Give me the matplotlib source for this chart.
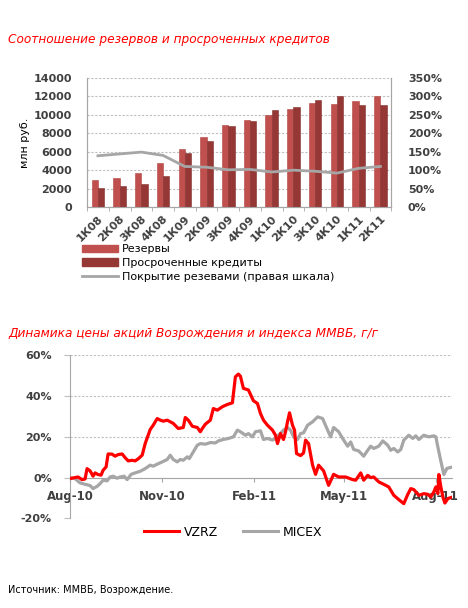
import numpy as np
import matplotlib.pyplot as plt
import matplotlib.dates as mdates
from matplotlib.patches import Patch
from matplotlib.lines import Line2D
from matplotlib.ticker import FuncFormatter

# --- chart 1: reserves vs overdue loans ---
quarters = ["1К08", "2К08", "3К08", "4К08", "1К09", "2К09", "3К09", "4К09",
            "1К10", "2К10", "3К10", "4К10", "1К11", "2К11"]
reserves = [2900, 3200, 3650, 4750, 6350, 7600, 8850, 9400, 10000, 10650, 11300, 11150, 11500, 12050]
overdue = [2100, 2250, 2450, 3350, 5850, 7150, 8750, 9350, 10500, 10800, 11600, 12050, 11050, 11050]
coverage = [139, 144, 149, 140, 110, 108, 101, 102, 95, 100, 97, 92, 105, 110]

# --- chart 2: VZRZ vs MICEX, y/y change (days from 2010-08-01) ---
vzrz_days = [0, 5, 8, 12, 15, 17, 20, 23, 25, 28, 31, 33, 36, 38, 42, 45, 48, 52, 55, 58,
             62, 65, 68, 72, 75, 80, 83, 87, 90, 93, 97, 100, 103, 108, 113, 115, 118, 122,
             127, 130, 132, 135, 140, 143, 147, 152, 157, 162, 165, 168, 170, 173, 178, 183,
             187, 190, 193, 197, 202, 205, 207, 210, 213, 215, 217, 219, 222, 224, 226, 230,
             233, 235, 238, 242, 245, 248, 253, 258, 263, 268, 275, 282, 285, 290, 293, 297,
             300, 303, 308, 313, 318, 323, 328, 333, 337, 340, 343, 348, 353, 357, 360, 363,
             365, 367, 368, 370, 372, 374, 377, 380]
vzrz = [-0.5, 0, 0.3, -1, -0.7, 4.4, 3.3, 0.7, 2.3, 1.5, 1.2, 3.6, 5.2, 11.6, 11.5, 10.5,
        11.3, 11.6, 9.8, 8.2, 8.5, 8.2, 9.2, 11, 16.7, 23.6, 25.7, 29, 28.2, 27.7, 28.2, 27.4,
        26.6, 24.1, 24.6, 29.5, 28.2, 25.2, 24.6, 22.5, 24.1, 26.2, 28.2, 33.9, 33.1, 34.8,
        35.9, 36.7, 49.5, 50.8, 49.8, 43.8, 43, 37.7, 36.4, 31.5, 28.2, 25.7, 23.3, 20.8,
        16.7, 21.6, 18.7, 22.5, 27.4, 31.8, 25.7, 23.3, 11.8, 10.8, 12.1, 18.4, 16.7, 6.1,
        1.6, 6.1, 3.3, -3.8, 1.6, 0.3, 0.3, -1, -1.3, 2.3, -1.3, 1.1, 0, 0.3, -2.1, -3.3,
        -4.6, -8.7, -10.8, -12.8, -8.2, -5.4, -5.9, -8.7, -7.9, -8.2, -9.5, -7, -4.6, -7.9,
        1.5, -4.6, -9.5, -12.5, -10.3, -9.8]
micex_days = [0, 5, 10, 15, 20, 23, 27, 30, 33, 37, 40, 43, 47, 50, 54, 57, 61, 65, 70, 75,
              80, 83, 87, 92, 97, 100, 103, 107, 110, 113, 117, 119, 123, 127, 130, 135, 140,
              145, 148, 153, 158, 163, 167, 170, 175, 178, 182, 185, 190, 193, 197, 202, 205,
              208, 213, 217, 220, 223, 227, 230, 233, 237, 242, 247, 252, 257, 260, 263, 268,
              273, 277, 280, 283, 288, 293, 297, 300, 303, 308, 312, 317, 320, 323, 327, 330,
              333, 338, 342, 345, 348, 353, 358, 363, 365, 367, 370, 373, 376, 380]
micex = [0, -0.5, -2.6, -3.3, -3.9, -5.4, -4.3, -3, -1.3, -1.6, 0.3, 0.7, -0.3, 0.3, 0.7,
         -1, 1.6, 2.3, 3.1, 4.4, 6.1, 5.6, 6.6, 7.7, 8.9, 11, 8.9, 7.7, 8.9, 8.5, 10.2, 9.3,
         12.6, 15.9, 16.7, 16.4, 17.2, 17, 18, 18.7, 19.2, 20, 23.3, 22.5, 20.8, 21.6, 20,
         22.5, 23, 18.7, 19.2, 18.4, 19.2, 20.8, 23.3, 24.6, 23.3, 20, 18.7, 21.6, 22, 25.7,
         27.4, 29.8, 29, 23.3, 20, 24.6, 22.5, 18.4, 15.4, 17.5, 13.8, 13.1, 10.5, 13.4, 15.4,
         14.3, 15.4, 18, 15.9, 13.4, 14.3, 12.6, 13.8, 18.4, 20.8, 19.2, 20.5, 18.7, 20.8, 20,
         20.5, 20, 15, 8, 1.5, 4.5, 5]

GRID = "#BFBFBF"
AXC = "#A6A6A6"
TICKFONT = dict(fontsize=8, fontweight="bold", color="#404040")

fig = plt.figure(figsize=(4.68, 6.08), dpi=100)

fig.text(8 / 468, 1 - 40 / 608, "Соотношение резервов и просроченных кредитов",
         color="red", style="italic", fontsize=8.7, va="center")

ax1 = fig.add_axes([0.186, 0.6595, 0.650, 0.2122])
x = np.arange(len(quarters))
w = 0.29
ax1.bar(x - w / 2, reserves, w, color="#C0504D", edgecolor="#B04340", lw=0.4, zorder=3)
ax1.bar(x + w / 2, overdue, w, color="#953735", edgecolor="#843130", lw=0.4, zorder=3)
ax1.set_xlim(-0.5, len(quarters) - 0.5)
ax1.set_ylim(0, 14000)
ax1.set_yticks(range(0, 14001, 2000))
ax1.yaxis.grid(True, color=GRID, linestyle=(0, (2, 1.5)), lw=0.8, zorder=0)
ax1.set_xticks(x)
ax1.set_xticklabels(quarters, rotation=45, ha="right", rotation_mode="anchor", **TICKFONT)
ax1.set_xticks(np.arange(len(quarters) + 1) - 0.5, minor=True)
ax1.tick_params(axis="x", which="major", length=0, pad=5)
ax1.tick_params(axis="x", which="minor", length=3, color=AXC)
ax1.tick_params(axis="y", length=0, pad=11)
for lab in ax1.get_yticklabels():
    lab.set(**TICKFONT)
ax1.set_ylabel("млн руб.", fontsize=8, labelpad=2)
ax1.spines["top"].set_visible(False)
for s in ["left", "right", "bottom"]:
    ax1.spines[s].set_color(AXC)

ax1b = ax1.twinx()
ax1b.plot(x, coverage, color="#A6A6A6", lw=2)
ax1b.set_ylim(0, 350)
ax1b.set_yticks(range(0, 351, 50))
ax1b.yaxis.set_major_formatter(FuncFormatter(lambda v, p: f"{int(v)}%"))
ax1b.tick_params(axis="y", length=0, pad=12)
for lab in ax1b.get_yticklabels():
    lab.set(**TICKFONT)
ax1b.spines["top"].set_visible(False)
for s in ["left", "right", "bottom"]:
    ax1b.spines[s].set_color(AXC)

h1 = [Patch(color="#C0504D"), Patch(color="#953735"), Line2D([], [], color="#A6A6A6", lw=2)]
fig.legend(h1, ["Резервы", "Просроченные кредиты", "Покрытие резевами (правая шкала)"],
           loc="upper left", bbox_to_anchor=(82 / 468, 1 - 244 / 608), frameon=False,
           fontsize=8, handlelength=3.2, handleheight=0.6, labelspacing=0.35,
           handletextpad=0.4, borderpad=0, borderaxespad=0)

# --- chart 2 ---
fig.text(8 / 468, 1 - 334 / 608, "Динамика цены акций Возрождения и индекса ММВБ, г/г",
         color="red", style="italic", fontsize=8.7, va="center")

start = np.datetime64("2010-08-01")
ax2 = fig.add_axes([0.1496, 0.1475, 0.816, 0.268])
ax2.plot(start + np.array(micex_days), micex, color="#A6A6A6", lw=2.3, zorder=3)
ax2.plot(start + np.array(vzrz_days), vzrz, color="#FF0000", lw=2.3, zorder=4)
ax2.set_ylim(-20, 60)
ax2.set_yticks([-20, 0, 20, 40, 60])
ax2.yaxis.set_major_formatter(FuncFormatter(lambda v, p: f"{int(v)}%"))
ax2.set_xlim(start, start + 381)
ax2.set_xticks([np.datetime64(d) for d in ["2010-08-01", "2010-11-01", "2011-02-01",
                                          "2011-05-01", "2011-08-01"]])
ax2.xaxis.set_major_formatter(mdates.DateFormatter("%b-%y"))
ax2.yaxis.grid(True, color=GRID, linestyle=(0, (2, 1.5)), lw=0.8, zorder=0)
ax2.spines["bottom"].set_position(("data", 0))
ax2.spines["bottom"].set_color(AXC)
ax2.spines["left"].set_color(AXC)
ax2.spines["top"].set_visible(False)
ax2.spines["right"].set_visible(False)
ax2.tick_params(axis="x", length=3, color=AXC, pad=6)
ax2.tick_params(axis="y", length=4, color=GRID, pad=9)
for lab in ax2.get_xticklabels():
    lab.set(fontsize=8.5, fontweight="bold", color="#404040")
for lab in ax2.get_yticklabels():
    lab.set(**TICKFONT)

h2 = [Line2D([], [], color="#FF0000", lw=2.2), Line2D([], [], color="#A6A6A6", lw=2.2)]
fig.legend(h2, ["VZRZ", "MICEX"], loc="center", bbox_to_anchor=(233 / 468, 1 - 532 / 608),
           ncol=2, frameon=False, fontsize=9, handlelength=2.8, columnspacing=2.0,
           handletextpad=0.4, borderpad=0)

fig.text(8 / 468, 1 - 590 / 608, "Источник: ММВБ, Возрождение.",
         family=["Liberation Sans Narrow", "DejaVu Sans"], fontsize=7, va="center")

fig.savefig("out.png", dpi=100)
